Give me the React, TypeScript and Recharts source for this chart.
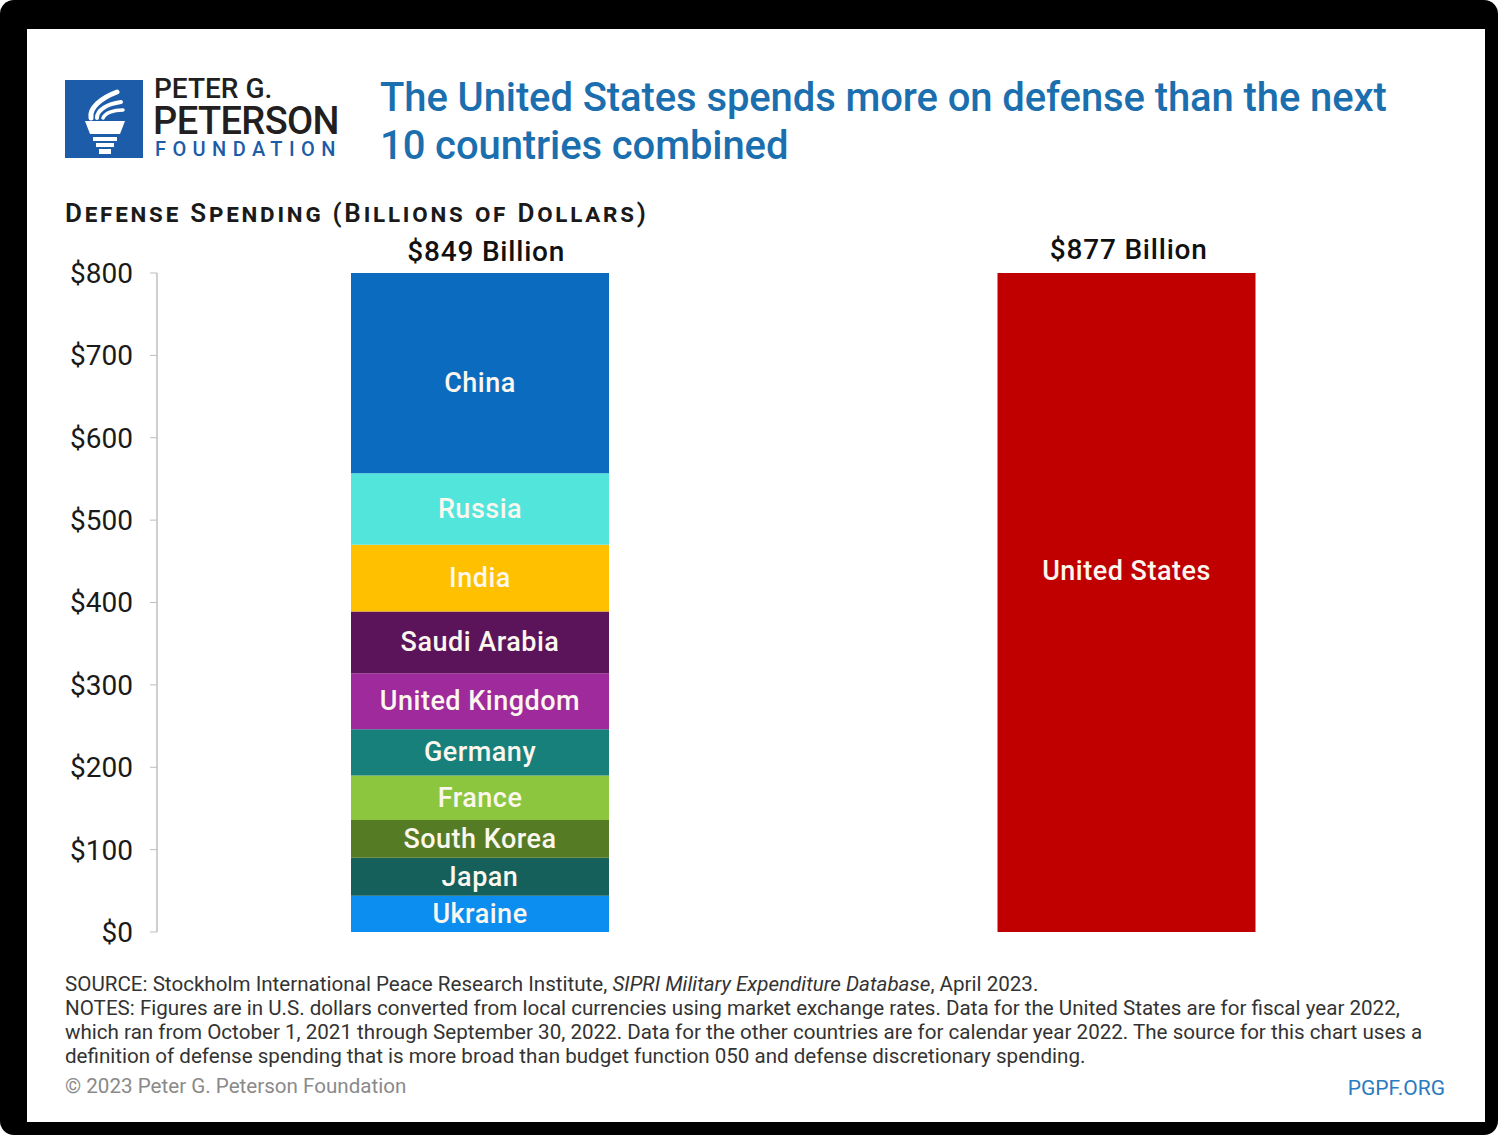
import { BarChart, Bar, XAxis, YAxis, LabelList, ReferenceDot } from "recharts";

// SIPRI 2022 defense spending, billions of dollars (bottom to top of the stack)
const COUNTRIES = [
  "Ukraine", "Japan", "South Korea", "France", "Germany",
  "United Kingdom", "Saudi Arabia", "India", "Russia", "China",
];
const SPENDING = [44, 46, 46, 54, 56, 68, 75, 81, 87, 292];
const COLORS = [
  "#0b8ef0", "#15605a", "#567b25", "#8cc63f", "#17807a",
  "#9e2a9c", "#5b1459", "#ffc000", "#52e5dc", "#0a6bbf",
];
const US_NAME = "United States";
const US_SPENDING = 877;
const US_COLOR = "#c00000";
const GROUPS = ["others", "us"];
const Y_TICKS = [0, 100, 200, 300, 400, 500, 600, 700, 800];
const Y_MAX = 800;

const OTHERS_TOTAL = SPENDING.reduce((a, b) => a + b, 0);

const data = [
  { name: GROUPS[0], ...Object.fromEntries(COUNTRIES.map((c, i) => [c, SPENDING[i]])) },
  { name: GROUPS[1], [US_NAME]: US_SPENDING },
];

const PLOT_TOP = 273;
const PLOT_H = 659;
const FONT = "Roboto, 'Open Sans', sans-serif";

function SegmentLabel(props: any) {
  const { x, y, width, height, value, text } = props;
  if (value == null || !height) return null;
  // bars past $800 are cut at the top: centre on the full segment,
  // but keep the label well inside the visible part
  const bottom = y + height;
  const full = (value * PLOT_H) / Y_MAX;
  const cy = Math.max(bottom - full / 2, PLOT_TOP + 110);
  return (
    <text
      x={x + width / 2}
      y={cy}
      textAnchor="middle"
      dominantBaseline="central"
      fill="#fbf6ee"
      fontSize={27}
      fontWeight={500}
      letterSpacing={0.5}
      fontFamily={FONT}
    >
      {text}
    </text>
  );
}

function Torch() {
  return (
    <svg width={78} height={78} viewBox="0 0 78 78">
      <rect width={78} height={78} fill="#1c5ca8" />
      <g fill="none" stroke="#fff" strokeLinecap="round">
        <path d="M26 38 C24 28 36 18 52 12" strokeWidth={5} />
        <path d="M32 38 C32 30 42 24 56 22" strokeWidth={4} />
        <path d="M38 38 C40 33 48 30 58 30" strokeWidth={3.5} />
      </g>
      <path d="M20 41 H60 L55 54 H25 Z" fill="#fff" />
      <rect x={28} y={57} width={24} height={4} fill="#fff" />
      <rect x={31} y={63} width={18} height={4} fill="#fff" />
      <rect x={34} y={69} width={12} height={5} fill="#fff" />
    </svg>
  );
}

const totalLabel = {
  fill: "#111", fontSize: 28, fontWeight: 500, fontFamily: FONT, letterSpacing: 0.8,
};

export default function App() {
  return (
    <div
      style={{
        position: "absolute", left: 0, top: 0, width: 1498, height: 1135,
        background: "#000", borderRadius: 14, fontFamily: FONT,
      }}
    >
      <div
        style={{
          position: "absolute", left: 27, top: 29, width: 1458, height: 1093,
          background: "#fff",
        }}
      />

      <div style={{ position: "absolute", left: 0, top: 0 }}>
        <BarChart
          width={1498}
          height={1135}
          data={data}
          margin={{ top: PLOT_TOP, right: 48, bottom: 203, left: 57 }}
        >
          <XAxis
            dataKey="name"
            height={0}
            tick={false}
            tickLine={false}
            axisLine={{ stroke: "#9a9a9a", strokeWidth: 2 }}
          />
          <YAxis
            width={100}
            domain={[0, Y_MAX]}
            allowDataOverflow
            ticks={Y_TICKS}
            tickFormatter={(v) => `$${v}`}
            tickSize={7}
            tickMargin={17}
            axisLine={{ stroke: "#cfcfcf", strokeWidth: 2 }}
            tickLine={{ stroke: "#bdbdbd" }}
            tick={{ fill: "#1a1a1a", fontSize: 28, fontFamily: FONT }}
          />
          {COUNTRIES.map((c, i) => (
            <Bar key={c} dataKey={c} stackId="s" fill={COLORS[i]} barSize={258} isAnimationActive={false}>
              <LabelList dataKey={c} content={(p: any) => <SegmentLabel {...p} text={c} />} />
            </Bar>
          ))}
          <Bar dataKey={US_NAME} stackId="s" fill={US_COLOR} barSize={258} isAnimationActive={false}>
            <LabelList dataKey={US_NAME} content={(p: any) => <SegmentLabel {...p} text={US_NAME} />} />
          </Bar>
          <ReferenceDot
            x={GROUPS[0]}
            y={Y_MAX}
            r={0.01}
            fill="none"
            stroke="none"
            label={{ value: `$${OTHERS_TOTAL} Billion`, position: "top", offset: 12, dx: 6, ...totalLabel }}
          />
          <ReferenceDot
            x={GROUPS[1]}
            y={Y_MAX}
            r={0.01}
            fill="none"
            stroke="none"
            label={{ value: `$${US_SPENDING} Billion`, position: "top", offset: 14, dx: 2, ...totalLabel }}
          />
        </BarChart>
      </div>

      {/* logo */}
      <div style={{ position: "absolute", left: 65, top: 80 }}>
        <Torch />
      </div>
      <div style={{ position: "absolute", left: 154, top: 76, fontSize: 28, fontWeight: 500, color: "#231f20", lineHeight: "26px" }}>
        PETER G.
      </div>
      <div style={{ position: "absolute", left: 153, top: 104, fontSize: 38, fontWeight: 500, color: "#231f20", lineHeight: "34px", letterSpacing: -0.6 }}>
        PETERSON
      </div>
      <div style={{ position: "absolute", left: 155, top: 139, fontSize: 20, fontWeight: 500, color: "#1c5ca8", lineHeight: "20px", letterSpacing: 6.4 }}>
        FOUNDATION
      </div>

      {/* title */}
      <div
        style={{
          position: "absolute", left: 380, top: 74, fontSize: 40, fontWeight: 500,
          color: "#1b6fae", lineHeight: "48px", letterSpacing: -0.1,
        }}
      >
        The United States spends more on defense than the next
        <br />
        10 countries combined
      </div>

      <div
        style={{
          position: "absolute", left: 65, top: 198, fontSize: 26, fontWeight: 600,
          color: "#1a1a1a", fontVariant: "small-caps", letterSpacing: 2.8,
        }}
      >
        Defense Spending (Billions of Dollars)
      </div>

      {/* footer */}
      <div
        style={{
          position: "absolute", left: 65, top: 972, width: 1420, fontSize: 20.6,
          color: "#333", lineHeight: "24px", fontWeight: 400,
        }}
      >
        SOURCE: Stockholm International Peace Research Institute, <i>SIPRI Military Expenditure Database</i>, April 2023.
        <br />
        NOTES: Figures are in U.S. dollars converted from local currencies using market exchange rates. Data for the United States are for fiscal year 2022,
        <br />
        which ran from October 1, 2021 through September 30, 2022. Data for the other countries are for calendar year 2022. The source for this chart uses a
        <br />
        definition of defense spending that is more broad than budget function 050 and defense discretionary spending.
      </div>
      <div style={{ position: "absolute", left: 65, top: 1074, fontSize: 20.6, color: "#8a8a8a" }}>
        © 2023 Peter G. Peterson Foundation
      </div>
      <div style={{ position: "absolute", right: 53, top: 1076, fontSize: 21, color: "#2a7bbf" }}>
        PGPF.ORG
      </div>
    </div>
  );
}
